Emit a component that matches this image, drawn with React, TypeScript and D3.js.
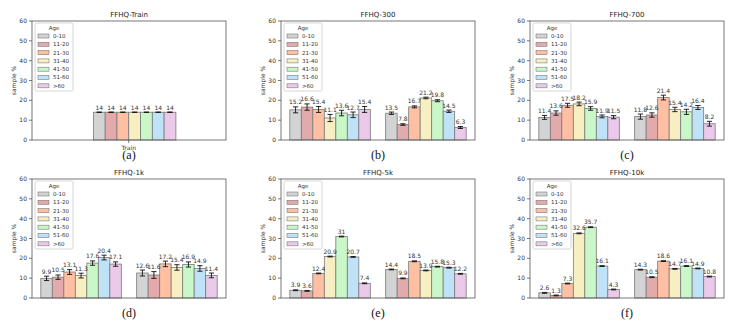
import { useRef, useEffect } from 'react';
import * as d3 from 'd3';

const AGE_GROUPS = ['0-10', '11-20', '21-30', '31-40', '41-50', '51-60', '>60'];
const AGE_COLORS = ['#d3d3d3', '#e2aaaa', '#ffbfa2', '#f7efc2', '#c9f7c7', '#c0e2f7', '#ebc9eb'];
const Y_TICKS = [0, 10, 20, 30, 40, 50, 60];

const TITLES = ['FFHQ-Train', 'FFHQ-300', 'FFHQ-700', 'FFHQ-1k', 'FFHQ-5k', 'FFHQ-10k'];
const LETTERS = ['(a)', '(b)', '(c)', '(d)', '(e)', '(f)'];

// one row per group (x category), one value per age bucket
const TRAIN_VALUES = [[14, 14, 14, 14, 14, 14, 14]];
const TRAIN_ERRORS = [[0.1, 0.1, 0.1, 0.1, 0.1, 0.1, 0.1]];

const F300_VALUES = [[15.2, 16.6, 15.4, 11.1, 13.6, 12.7, 15.4], [13.5, 7.8, 16.7, 21.2, 19.8, 14.5, 6.3]];
const F300_ERRORS = [[1.5, 1.6, 1.5, 1.8, 1.4, 1.4, 1.5], [0.6, 0.4, 0.5, 0.4, 0.5, 0.6, 0.5]];

const F700_VALUES = [[11.4, 13.6, 17.5, 18.2, 15.9, 11.9, 11.5], [11.8, 12.6, 21.4, 15.4, 14.2, 16.4, 8.2]];
const F700_ERRORS = [[1.0, 1.1, 1.0, 0.9, 0.9, 0.7, 0.8], [1.3, 1.1, 1.2, 1.1, 1.3, 1.0, 1.2]];

const F1K_VALUES = [[9.9, 10.5, 13.1, 11.3, 17.6, 20.4, 17.1], [12.6, 11.6, 17.2, 15.4, 16.9, 14.9, 11.4]];
const F1K_ERRORS = [[1.1, 1.1, 1.2, 1.2, 1.1, 1.2, 1.1], [1.5, 1.7, 1.4, 1.4, 1.3, 1.4, 1.2]];

const F5K_VALUES = [[3.9, 3.6, 12.4, 20.9, 31, 20.7, 7.4], [14.4, 9.9, 18.5, 13.9, 15.8, 15.3, 12.2]];
const F5K_ERRORS = [[0.2, 0.2, 0.2, 0.2, 0.2, 0.2, 0.2], [0.2, 0.2, 0.2, 0.2, 0.2, 0.2, 0.2]];

const F10K_VALUES = [[2.6, 1.3, 7.3, 32.6, 35.7, 16.1, 4.3], [14.3, 10.5, 18.6, 14.7, 16.1, 14.9, 10.8]];
const F10K_ERRORS = [[0.2, 0.2, 0.2, 0.2, 0.2, 0.2, 0.2], [0.2, 0.2, 0.2, 0.2, 0.2, 0.2, 0.2]];

const PANEL_VALUES = [TRAIN_VALUES, F300_VALUES, F700_VALUES, F1K_VALUES, F5K_VALUES, F10K_VALUES];
const PANEL_ERRORS = [TRAIN_ERRORS, F300_ERRORS, F700_ERRORS, F1K_ERRORS, F5K_ERRORS, F10K_ERRORS];

const BAR_W = 0.12;
const FONT = 'DejaVu Sans, sans-serif';

export default function App() {
  const ref = useRef<SVGSVGElement>(null);

  useEffect(() => {
    const svg = d3.select(ref.current);
    svg.selectAll('*').remove();

    const colX = [32, 281, 530];
    const rowY = [21, 179];
    const W = 194;
    const H = 119;

    PANEL_VALUES.forEach((values, p) => {
      const errors = PANEL_ERRORS[p];
      const left = colX[p % 3];
      const top = rowY[Math.floor(p / 3)];
      const g = svg.append('g').attr('transform', `translate(${left},${top})`);

      const single = values.length === 1;
      const x = d3.scaleLinear()
        .domain(single ? [-0.985, 0.99] : [-0.452, 1.572])
        .range([0, W]);
      const y = d3.scaleLinear().domain([0, 60]).range([H, 0]);
      const bw = x(BAR_W) - x(0);

      // bars
      values.forEach((row, gi) => {
        row.forEach((v, i) => {
          const x0 = x(gi + (i - 3) * BAR_W);
          g.append('rect')
            .attr('x', x0).attr('y', y(v))
            .attr('width', bw).attr('height', y(0) - y(v))
            .attr('fill', AGE_COLORS[i])
            .attr('stroke', '#7a7a7a').attr('stroke-width', 0.8);
        });
      });

      // error bars + labels
      values.forEach((row, gi) => {
        row.forEach((v, i) => {
          const cx = x(gi + (i - 3) * BAR_W) + bw / 2;
          const e = errors[gi][i];
          const y1 = y(v + e), y2 = y(v - e);
          g.append('line')
            .attr('x1', cx).attr('x2', cx).attr('y1', y1).attr('y2', y2)
            .attr('stroke', '#111').attr('stroke-width', 0.9);
          [y1, y2].forEach(yy => {
            g.append('line')
              .attr('x1', cx - 2.6).attr('x2', cx + 2.6).attr('y1', yy).attr('y2', yy)
              .attr('stroke', '#111').attr('stroke-width', 0.9);
          });
          g.append('text')
            .attr('x', cx).attr('y', y1 - 2.5)
            .attr('text-anchor', 'middle')
            .attr('font-family', FONT).attr('font-size', 6)
            .attr('fill', '#333')
            .text(String(v));
        });
      });

      // frame
      g.append('rect')
        .attr('x', 0).attr('y', 0).attr('width', W).attr('height', H)
        .attr('fill', 'none').attr('stroke', '#555').attr('stroke-width', 0.8);

      // y axis ticks
      Y_TICKS.forEach(t => {
        g.append('line')
          .attr('x1', -3).attr('x2', 0).attr('y1', y(t)).attr('y2', y(t))
          .attr('stroke', '#555').attr('stroke-width', 0.8);
        g.append('text')
          .attr('x', -5).attr('y', y(t)).attr('dy', '0.35em')
          .attr('text-anchor', 'end')
          .attr('font-family', FONT).attr('font-size', 6)
          .attr('fill', '#333')
          .text(t);
      });

      g.append('text')
        .attr('transform', `translate(-16,${H / 2}) rotate(-90)`)
        .attr('text-anchor', 'middle')
        .attr('font-family', FONT).attr('font-size', 6)
        .attr('fill', '#333')
        .text('sample %');

      if (single) {
        g.append('line')
          .attr('x1', x(0)).attr('x2', x(0)).attr('y1', H).attr('y2', H + 3)
          .attr('stroke', '#555').attr('stroke-width', 0.8);
        g.append('text')
          .attr('x', x(0)).attr('y', H + 10)
          .attr('text-anchor', 'middle')
          .attr('font-family', FONT).attr('font-size', 6)
          .attr('fill', '#333')
          .text('Train');
      }

      // title
      g.append('text')
        .attr('x', W / 2).attr('y', -4)
        .attr('text-anchor', 'middle')
        .attr('font-family', FONT).attr('font-size', 7)
        .attr('fill', '#222')
        .text(TITLES[p]);

      // panel letter
      g.append('text')
        .attr('x', W / 2).attr('y', H + 19)
        .attr('text-anchor', 'middle')
        .attr('font-family', 'Liberation Serif, serif').attr('font-size', 12)
        .attr('fill', '#111')
        .text(LETTERS[p]);

      // legend
      const lg = g.append('g').attr('transform', 'translate(3,2)');
      lg.append('rect')
        .attr('x', 0).attr('y', 0).attr('width', 38).attr('height', 68)
        .attr('rx', 1.5)
        .attr('fill', 'white').attr('fill-opacity', 0.8)
        .attr('stroke', '#ccc').attr('stroke-width', 0.8);
      lg.append('text')
        .attr('x', 19).attr('y', 7)
        .attr('text-anchor', 'middle')
        .attr('font-family', FONT).attr('font-size', 5.5)
        .attr('fill', '#333')
        .text('Age');
      AGE_GROUPS.forEach((a, i) => {
        const ly = 13 + i * 8.3;
        lg.append('rect')
          .attr('x', 3).attr('y', ly - 2).attr('width', 11).attr('height', 4)
          .attr('fill', AGE_COLORS[i])
          .attr('stroke', '#7a7a7a').attr('stroke-width', 0.6);
        lg.append('text')
          .attr('x', 18).attr('y', ly).attr('dy', '0.35em')
          .attr('font-family', FONT).attr('font-size', 5.5)
          .attr('fill', '#333')
          .text(a);
      });
    });
  }, []);

  return (
    <svg
      ref={ref}
      width={747}
      height={321}
      style={{ position: 'absolute', left: 0, top: 0, background: 'white' }}
    />
  );
}
